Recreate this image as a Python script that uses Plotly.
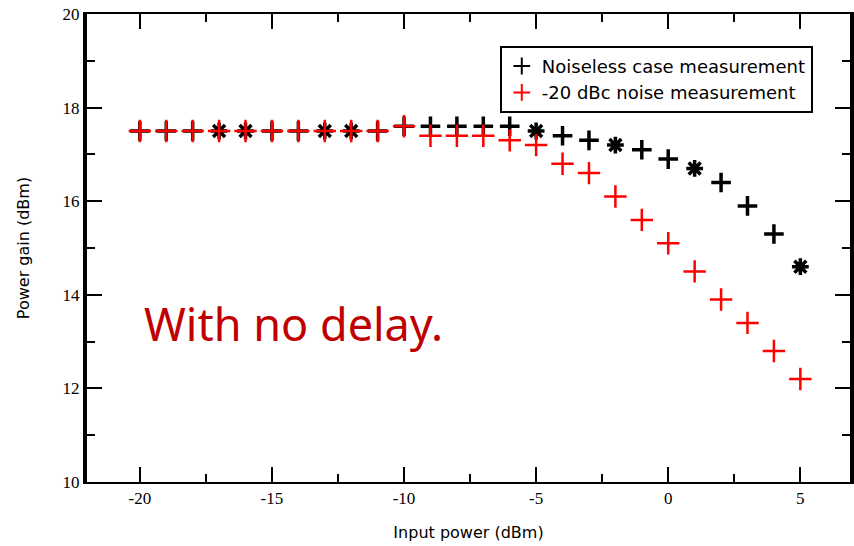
import plotly.graph_objects as go

input_power = [-20, -19, -18, -17, -16, -15, -14, -13, -12, -11, -10, -9, -8, -7, -6, -5, -4, -3, -2, -1, 0, 1, 2, 3, 4, 5]
gain_noiseless = [17.5, 17.5, 17.5, 17.5, 17.5, 17.5, 17.5, 17.5, 17.5, 17.5, 17.6, 17.6, 17.6, 17.6, 17.6, 17.5,
                  17.4, 17.3, 17.2, 17.1, 16.9, 16.7, 16.4, 15.9, 15.3, 14.6]
gain_noise = [17.5, 17.5, 17.5, 17.5, 17.5, 17.5, 17.5, 17.5, 17.5, 17.5, 17.6, 17.4, 17.4, 17.4, 17.3, 17.2,
              16.8, 16.6, 16.1, 15.6, 15.1, 14.5, 13.9, 13.4, 12.8, 12.2]
series_names = ["Noiseless case measurement", "-20 dBc noise measurement"]
x_ticks = [-20, -15, -10, -5, 0, 5]
x_ticklabels = ["-20", "-15", "-10", "-5", "0", "5"]
y_ticks = [10, 12, 14, 16, 18, 20]
y_ticklabels = ["10", "12", "14", "16", "18", "20"]

asterisk_points = (-17, -16, -13, -12, -5, -2, 1, 5)
black_symbols = ["asterisk-open" if v in asterisk_points else "cross-thin-open" for v in input_power]

fig = go.Figure()
fig.add_trace(go.Scatter(
    x=input_power, y=gain_noiseless, mode="markers", name=series_names[0],
    marker=dict(symbol=black_symbols, size=14, color="black",
                line=dict(color="black", width=3.5)),
))
fig.add_trace(go.Scatter(
    x=input_power, y=gain_noise, mode="markers", name=series_names[1],
    marker=dict(symbol="cross-thin-open", size=16, color="red",
                line=dict(color="red", width=2.5)),
))

fig.add_annotation(
    x=-14.2, y=13.38, xref="x", yref="y", text="With no delay.", showarrow=False,
    xanchor="center", yanchor="middle",
    font=dict(family="Noto Sans", size=45, color="#C00000"),
)

axis_common = dict(
    showline=True, linecolor="black", mirror="allticks", ticks="inside",
    tickcolor="black", tickwidth=2, ticklen=15, showgrid=False, zeroline=False,
    tickfont=dict(family="Liberation Serif", size=17, color="black"),
)

fig.update_xaxes(
    range=[-22, 6.88], tickvals=x_ticks, ticktext=x_ticklabels, linewidth=2,
    minor=dict(dtick=2.5, ticks="inside", ticklen=8, tickwidth=2, tickcolor="black", showgrid=False),
    title=dict(text="Input power (dBm)", standoff=19,
               font=dict(family="DejaVu Sans", size=16, color="black")),
    **axis_common,
)
fig.update_yaxes(
    range=[10, 20], tickvals=y_ticks, ticktext=y_ticklabels, linewidth=4,
    minor=dict(dtick=1, ticks="inside", ticklen=8, tickwidth=2, tickcolor="black", showgrid=False),
    title=dict(text="Power gain (dBm)", standoff=30,
               font=dict(family="DejaVu Sans", size=16, color="black")),
    **axis_common,
)

fig.update_layout(
    width=854, height=546,
    margin=dict(l=87, r=0, t=14, b=64),
    paper_bgcolor="white", plot_bgcolor="white",
    legend=dict(
        x=0.541, y=0.932, xanchor="left", yanchor="top",
        bgcolor="white", bordercolor="black", borderwidth=2,
        font=dict(family="DejaVu Sans", size=18, color="black"),
        itemsizing="constant", tracegroupgap=0,
    ),
    showlegend=True,
)

fig.write_html("out.html")
